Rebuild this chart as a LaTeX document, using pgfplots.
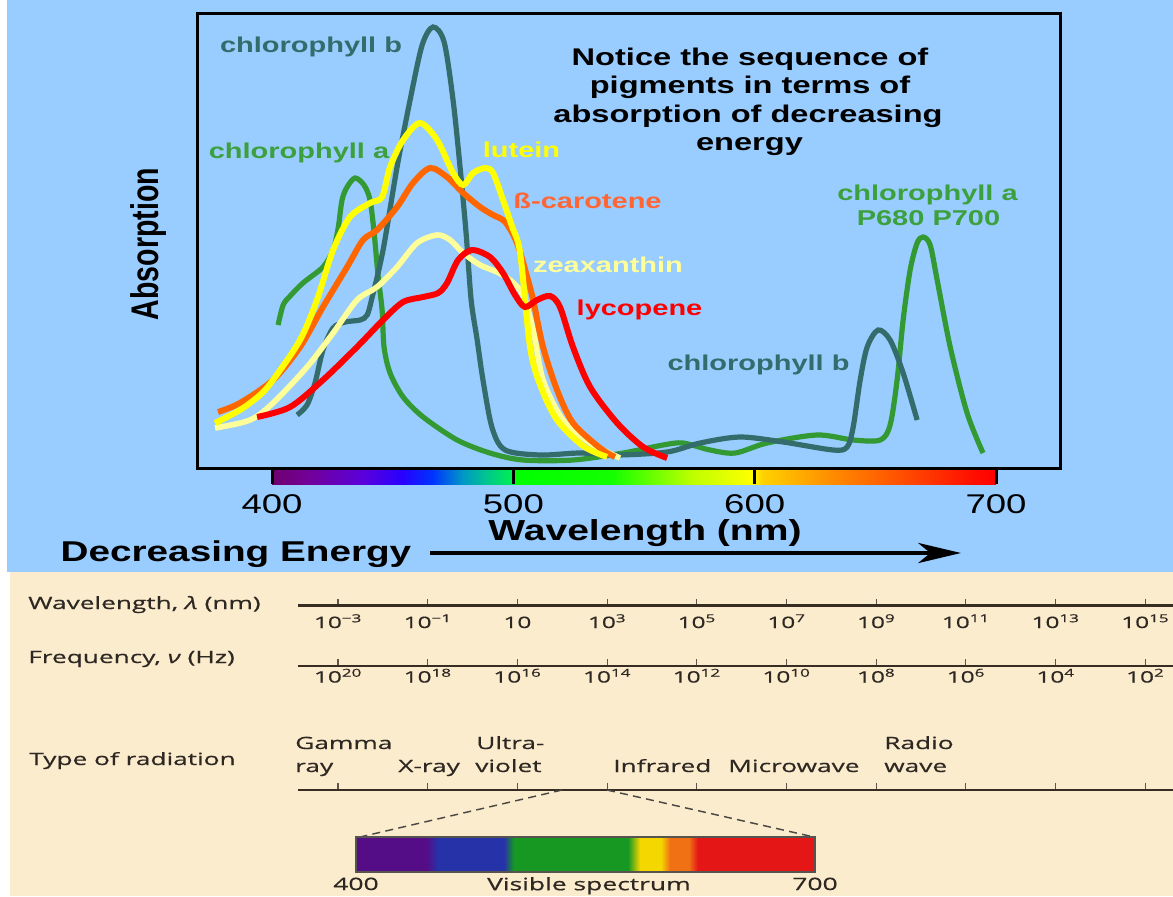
\documentclass[border=0pt]{standalone}
\usepackage{pgfplots}
\pgfplotsset{compat=1.18}
\usepackage{fontspec}
\usepackage{graphicx}
\usetikzlibrary{arrows.meta}
\setmainfont{Liberation Sans}
\newfontfamily\topfont{Liberation Sans}[FakeStretch=1.35]
\newfontfamily\plainfont{Liberation Sans}
\newfontfamily\botfont{Open Sans}[FakeStretch=1.55, FakeBold=0.6]

\definecolor{bgblue}{RGB}{153,204,255}
\definecolor{bgbeige}{RGB}{252,236,206}
\definecolor{chlb}{RGB}{52,107,107}
\definecolor{chla}{RGB}{51,153,51}
\definecolor{chlalab}{RGB}{60,160,60}
\definecolor{lut}{RGB}{255,255,0}
\definecolor{beta}{RGB}{255,102,0}
\definecolor{betalab}{RGB}{255,102,51}
\definecolor{zea}{RGB}{255,255,153}
\definecolor{lyc}{RGB}{255,0,0}
\definecolor{ink}{RGB}{45,40,34}
\definecolor{lineclr}{RGB}{55,45,35}
\definecolor{tickclr}{RGB}{95,85,75}
% top spectrum colours
\definecolor{s0}{RGB}{110,0,110}
\definecolor{s1}{RGB}{115,0,150}
\definecolor{s2}{RGB}{90,0,220}
\definecolor{s3}{RGB}{40,0,255}
\definecolor{s4}{RGB}{0,50,255}
\definecolor{s5}{RGB}{0,150,200}
\definecolor{s6}{RGB}{0,200,140}
\definecolor{s7}{RGB}{0,240,80}
\definecolor{s8}{RGB}{0,255,0}
\definecolor{s9}{RGB}{20,255,0}
\definecolor{s10}{RGB}{190,255,0}
\definecolor{s11}{RGB}{255,255,0}
\definecolor{s12}{RGB}{255,210,0}
\definecolor{s13}{RGB}{255,140,0}
\definecolor{s14}{RGB}{255,60,0}
\definecolor{s15}{RGB}{255,15,0}
\definecolor{s16}{RGB}{255,0,0}
\pgfdeclarehorizontalshading{topspec}{100bp}{color(0bp)=(s0); color(25bp)=(s0); color(27.35bp)=(s1); color(31.35bp)=(s2); color(33.98bp)=(s3); color(36.05bp)=(s4); color(38.12bp)=(s5); color(39.85bp)=(s6); color(41.64bp)=(s7); color(41.85bp)=(s8); color(48.48bp)=(s9); color(54.01bp)=(s10); color(58.15bp)=(s11); color(58.84bp)=(s12); color(63.67bp)=(s13); color(69.89bp)=(s14); color(73.34bp)=(s15); color(75bp)=(s16); color(100bp)=(s16)}
% visible spectrum (bottom)
\definecolor{vpur}{RGB}{85,12,135}
\definecolor{vblu}{RGB}{38,50,168}
\definecolor{vgre}{RGB}{22,152,34}
\definecolor{vyel}{RGB}{245,215,0}
\definecolor{vora}{RGB}{240,112,20}
\definecolor{vred}{RGB}{228,22,22}
\pgfdeclarehorizontalshading{visspec}{100bp}{color(0bp)=(vpur); color(25bp)=(vpur); color(32.63bp)=(vpur); color(33.93bp)=(vblu); color(41.12bp)=(vblu); color(42.21bp)=(vgre); color(54.63bp)=(vgre); color(55.94bp)=(vyel); color(58.22bp)=(vyel); color(59.20bp)=(vora); color(61.27bp)=(vora); color(62.25bp)=(vred); color(75bp)=(vred); color(100bp)=(vred)}

\newcommand\lab[1]{{\topfont\bfseries\fontsize{16.1}{19}\selectfont #1}}
\newcommand\ttl[1]{{\topfont\bfseries\fontsize{18.1}{21}\selectfont #1}}
\newcommand\btext{\botfont\fontsize{12.7}{14}\selectfont}
\newcommand\bottick{\botfont\fontsize{11.8}{13}\selectfont}

\pgfplotsset{emscale/.style={
  scale only axis, width=656.25pt, height=7.5pt,
  xmin=-0.446, xmax=9.309, ymin=0, ymax=1,
  axis x line*=bottom, axis y line=none,
  x axis line style={line width=1.6pt, draw=lineclr},
  xtick={0,...,9}, tick align=inside, major tick length=5pt,
  xtick style={line width=0.8pt, draw=tickclr},
  ytick=\empty,
  xticklabel style={font=\bottick, text=ink, anchor=base},
}}

\begin{document}
\begin{tikzpicture}[x=0.75pt, y=-0.75pt]
\useasboundingbox (0,0) rectangle (1173,896);
\fill[white] (0,0) rectangle (1173,896);
\fill[bgblue] (7,0) rectangle (1173,572);
\fill[bgbeige] (10,572) rectangle (1173,896);

\begin{axis}[
  at={(147.75pt,-351pt)}, anchor=south west,
  scale only axis, width=647.25pt, height=341.25pt,
  xmin=368.9, xmax=726.5, ymin=0, ymax=455,
  axis line style={line width=2.25pt, black},
  axis on top, clip=false,
  xtick={400,500,600,700}, xticklabels={400,500,600,700},
  xtick pos=bottom, tick align=outside, major tick length=12pt,
  xtick style={line width=2.25pt, black},
  ytick=\empty,
  xticklabel style={font=\topfont\fontsize{20.3}{22}\selectfont, anchor=base, yshift=-21.8pt},
  xlabel={Wavelength (nm)},
  xlabel style={font=\topfont\bfseries\fontsize{21.7}{24}\selectfont, at={(axis description cs:0.5191,-0.160)}, anchor=base},
  ylabel={\scalebox{1}[1.35]{\plainfont\bfseries\fontsize{21.4}{24}\selectfont Absorption}},
  ylabel style={at={(axis description cs:-0.0562,0.4923)}, anchor=center},
]
\shade[shading=topspec] (axis cs:400,-1) rectangle (axis cs:700,-16);
% chlorophyll a
\addplot[smooth, line width=3.9pt, color=chla] coordinates {
(402.5,143) (404.6,163) (407.5,172) (412.8,185) (421.1,201) (425.3,218) (427.4,240) (429.0,268) (431.1,281) (434.4,290) (438.1,283) (440.6,268) (442.3,235) (443.9,193) (445.6,158) (446.4,121) (448.9,95) (454.3,71) (462.6,51) (476.7,28) (490.3,15) (504.0,8) (524.7,8) (545.5,15) (562.0,23) (570.3,25) (581.5,18) (591.9,15) (605.1,25) (625.8,33) (640.8,28) (652.0,28) (656.1,43) (659.0,88) (661.5,148) (664.4,198) (667.3,225) (669.8,231) (672.7,223) (675.6,188) (681.0,121) (688.0,55) (694.6,15)
};
% chlorophyll b
\addplot[smooth, line width=3.9pt, color=chlb] coordinates {
(410.4,53) (414.5,63) (417.8,85) (421.1,118) (425.3,140) (430.3,146) (436.5,148) (439.4,153) (441.4,170) (446.0,218) (451.8,301) (457.2,368) (462.2,423) (466.7,441) (471.3,426) (475.0,368) (477.9,301) (480.4,235) (482.5,168) (485.0,128) (487.4,88) (491.2,40) (496.6,18) (511.1,13) (527.6,15) (543.0,13) (563.7,16) (577.4,25) (593.9,31) (611.8,26) (632.5,18) (638.3,21) (640.8,41) (643.7,88) (646.6,121) (651.1,138) (656.1,128) (661.5,95) (667.3,48)
};
% zeaxanthin
\addplot[smooth, line width=4.2pt, color=zea] coordinates {
(376.4,40) (390.9,48) (400.4,65) (414.5,101) (425.3,135) (435.2,168) (443.5,181) (451.8,201) (460.1,225) (468.4,233) (473.8,228) (479.2,215) (486.2,203) (493.2,196) (498.6,188) (504.0,173) (508.2,138) (512.3,88) (520.6,48) (531.8,25) (544.2,10)
};
% beta-carotene
\addplot[smooth, line width=4.5pt, color=beta] coordinates {
(377.6,56) (386.7,65) (400.4,88) (411.6,121) (421.1,161) (431.1,201) (437.7,228) (443.5,238) (451.8,261) (458.4,285) (465.5,300) (472.5,291) (479.2,275) (486.2,261) (491.6,253) (496.6,246) (501.5,225) (505.7,191) (508.2,168) (512.3,121) (518.1,78) (524.7,45) (535.9,20) (542.1,11)
};
% lutein
\addplot[smooth, line width=4.5pt, color=lut] coordinates {
(376.4,45) (386.7,58) (395.0,73) (400.4,88) (411.6,128) (418.6,168) (425.3,218) (432.3,251) (440.6,265) (445.6,271) (448.9,301) (454.3,328) (461.3,345) (468.4,328) (475.0,295) (479.2,283) (483.3,295) (488.3,300) (491.6,295) (495.7,268) (499.5,241) (502.8,215) (506.9,121) (511.1,83) (518.1,48) (528.9,22) (538.8,11)
};
% lycopene
\addplot[smooth, line width=4.5pt, color=lyc] coordinates {
(393.8,51) (407.5,61) (421.1,88) (435.2,121) (446.0,148) (454.3,166) (462.6,171) (468.8,175) (472.5,185) (477.1,208) (482.9,218) (490.3,211) (495.7,195) (500.7,173) (504.8,161) (509.8,168) (515.2,172) (519.3,161) (524.7,121) (531.8,81) (543.0,45) (553.8,21) (563.7,10)
};
\end{axis}

% curve labels
\node[anchor=base, inner sep=0, text=chlb] at (311,52) {\lab{chlorophyll b}};
\node[anchor=base, inner sep=0, text=chlalab] at (299,158) {\lab{chlorophyll a}};
\node[anchor=base, inner sep=0, text=lut] at (521.5,157.5) {\lab{lutein}};
\node[anchor=base, inner sep=0, text=betalab] at (587.5,208) {\lab{ß-carotene}};
\node[anchor=base, inner sep=0, text=zea] at (608,272.7) {\lab{zeaxanthin}};
\node[anchor=base, inner sep=0, text=lyc] at (639.5,315) {\lab{lycopene}};
\node[anchor=base, inner sep=0, text=chlb] at (758.5,370.7) {\lab{chlorophyll b}};
\node[anchor=base, inner sep=0, text=chlalab] at (927.5,200) {\lab{chlorophyll a}};
\node[anchor=base, inner sep=0, text=chlalab] at (928.5,225) {\lab{P680 P700}};
% title
\node[anchor=base, inner sep=0] at (750,65) {\ttl{Notice the sequence of}};
\node[anchor=base, inner sep=0] at (750,93.5) {\ttl{pigments in terms of}};
\node[anchor=base, inner sep=0] at (748,122) {\ttl{absorption of decreasing}};
\node[anchor=base, inner sep=0] at (749.5,150) {\ttl{energy}};
% decreasing energy
\node[anchor=base, inner sep=0] at (236,561.7) {{\topfont\bfseries\fontsize{21.5}{24}\selectfont Decreasing Energy}};
\draw[line width=3.4pt, -{Stealth[length=32pt, width=15pt, inset=9pt]}] (430,553) -- (961,553);

% electromagnetic spectrum scales
\begin{axis}[emscale, at={(223.5pt,-454.1pt)}, anchor=south west,
  xticklabels={10\textsuperscript{−3},10\textsuperscript{−1},10,10\textsuperscript{3},10\textsuperscript{5},10\textsuperscript{7},10\textsuperscript{9},10\textsuperscript{11},10\textsuperscript{13},10\textsuperscript{15}},
  xticklabel style={yshift=-16.9pt}]
\addplot[draw=none] coordinates {(0,0)};
\end{axis}
\begin{axis}[emscale, at={(223.5pt,-499.5pt)}, anchor=south west,
  xticklabels={10\textsuperscript{20},10\textsuperscript{18},10\textsuperscript{16},10\textsuperscript{14},10\textsuperscript{12},10\textsuperscript{10},10\textsuperscript{8},10\textsuperscript{6},10\textsuperscript{4},10\textsuperscript{2}},
  xticklabel style={yshift=-12.4pt}]
\addplot[draw=none] coordinates {(0,0)};
\end{axis}
\begin{axis}[emscale, at={(223.5pt,-592.5pt)}, anchor=south west, xticklabels={}]
\addplot[draw=none] coordinates {(0,0)};
\end{axis}

\node[anchor=base west, inner sep=0, text=ink] at (28,609) {\btext Wavelength, \textit{λ} (nm)};
\node[anchor=base west, inner sep=0, text=ink] at (28,663) {\btext Frequency, \textit{ν} (Hz)};
\node[anchor=base west, inner sep=0, text=ink] at (29,765) {\btext Type of radiation};
\node[anchor=base west, inner sep=0, text=ink] at (295,749) {\btext Gamma};
\node[anchor=base west, inner sep=0, text=ink] at (295,772) {\btext ray};
\node[anchor=base west, inner sep=0, text=ink] at (398,772) {\btext X-ray};
\node[anchor=base west, inner sep=0, text=ink] at (476,749) {\btext Ultra-};
\node[anchor=base west, inner sep=0, text=ink] at (475,772) {\btext violet};
\node[anchor=base west, inner sep=0, text=ink] at (613,772) {\btext Infrared};
\node[anchor=base west, inner sep=0, text=ink] at (728,772) {\btext Microwave};
\node[anchor=base west, inner sep=0, text=ink] at (884,749) {\btext Radio};
\node[anchor=base west, inner sep=0, text=ink] at (884,772) {\btext wave};

\draw[line width=1.1pt, draw=ink!85, dash pattern=on 6pt off 4pt] (562,790) -- (360,837);
\draw[line width=1.1pt, draw=ink!85, dash pattern=on 6pt off 4pt] (607,790) -- (814,837);

\begin{axis}[at={(267pt,-654pt)}, anchor=south west,
  scale only axis, width=344.25pt, height=26.25pt,
  xmin=400, xmax=700, ymin=0, ymax=1,
  axis line style={draw=none}, clip=false,
  xtick={400,700}, xticklabels={400,700}, major tick length=0pt,
  ytick=\empty,
  xticklabel style={font=\botfont\fontsize{12.8}{14}\selectfont, text=ink, anchor=base, yshift=-13.5pt},
  xlabel={Visible spectrum},
  xlabel style={font=\botfont\fontsize{12.8}{14}\selectfont, text=ink, at={(axis description cs:0.5076,-0.52)}, anchor=base},
]
\shade[shading=visspec] (axis cs:400,0) rectangle (axis cs:700,1);
\draw[line width=0.8pt, draw=ink!80] (axis cs:400,0) rectangle (axis cs:700,1);
\end{axis}
\end{tikzpicture}
\end{document}
